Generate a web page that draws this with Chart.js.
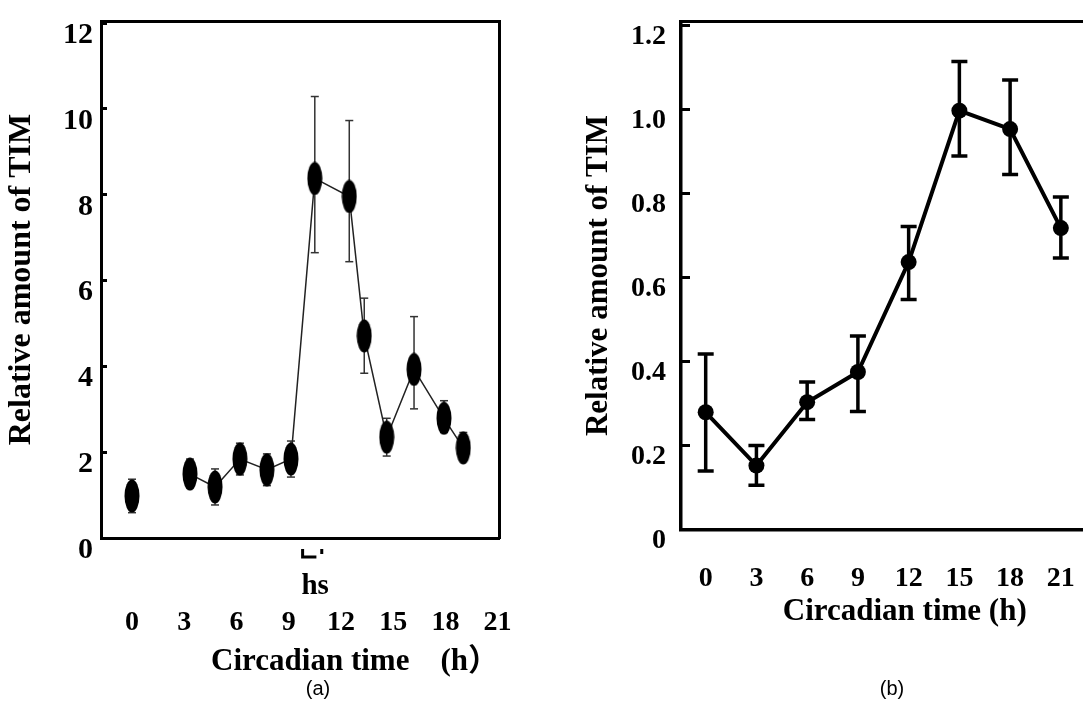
<!DOCTYPE html>
<html><head><meta charset="utf-8">
<script src="https://cdn.jsdelivr.net/npm/chart.js@4.4.1/dist/chart.umd.min.js"></script>
<style>
html,body{margin:0;padding:0;background:#fff;}
body{width:1083px;height:726px;overflow:hidden;position:relative;}
#wa{position:absolute;left:0;top:0;width:520px;height:726px;}
#wb{position:absolute;left:540px;top:0;width:600px;height:726px;}
.cap{position:absolute;top:676px;font:20px "Liberation Sans", Arial, sans-serif;line-height:24px;color:#000;width:60px;text-align:center;}
</style></head><body>
<div id="wa"><canvas id="ca" width="520" height="726"></canvas></div>
<div id="wb"><canvas id="cb" width="600" height="726"></canvas></div>
<div class="cap" style="left:288px">(a)</div>
<div class="cap" style="left:862px">(b)</div>
<script>
// ---------- Panel (a) data ----------
const timeA    = [0, 3.33, 4.77, 6.2, 7.75, 9.13, 10.5, 12.48, 13.34, 14.63, 16.2, 17.92, 19.03];
const timA     = [0.98, 1.49, 1.19, 1.84, 1.59, 1.84, 8.38, 7.96, 4.71, 2.35, 3.93, 2.79, 2.10];
const timAHigh = [1.37, 1.84, 1.61, 2.21, 1.96, 2.26, 10.29, 9.73, 5.59, 2.79, 5.16, 3.20, 2.46];
const timALow  = [0.59, 1.17, 0.77, 1.47, 1.22, 1.42, 6.65, 6.44, 3.84, 1.91, 3.01, 2.46, 1.83];
const xTicksA  = [0, 3, 6, 9, 12, 15, 18, 21];
const yTicksA  = [0, 2, 4, 6, 8, 10, 12];
const hsPeriod = [9.8, 10.9];
const hsLabel  = 'hs';
const xTitleA  = 'Circadian time    (h\uFF09';

// ---------- Panel (b) data ----------
const timeB    = [0, 3, 6, 9, 12, 15, 18, 21];
const timB     = [0.279, 0.152, 0.303, 0.375, 0.637, 0.998, 0.954, 0.718];
const timBHigh = [0.418, 0.200, 0.351, 0.461, 0.722, 1.115, 1.071, 0.792];
const timBLow  = [0.139, 0.105, 0.262, 0.281, 0.548, 0.890, 0.846, 0.647];
const xTicksB  = [0, 3, 6, 9, 12, 15, 18, 21];
const yTicksB  = [0, 0.2, 0.4, 0.6, 0.8, 1.0, 1.2];
const yTickLabelsB = ['0', '0.2', '0.4', '0.6', '0.8', '1.0', '1.2'];
const xTitleB  = 'Circadian time (h)';
const yTitle   = 'Relative amount of TIM';

const serif = '"Liberation Serif", "Times New Roman", "Noto Sans CJK JP", serif';

function points(xs, ys){ return xs.map((x, i) => ({x: x, y: ys[i]})); }
function errSegments(xs, lo, hi){
  const out = [];
  xs.forEach((x, i) => { out.push({x: x, y: lo[i]}, {x: x, y: hi[i]}, {x: x, y: null}); });
  return out;
}
function fixedTicks(arr){ return s => { s.ticks = arr.map(v => ({value: v})); }; }
function fixSize(w, h){
  return s => {
    if (w !== null) s.width = w;
    if (h !== null) s.height = h;
    s.paddingTop = 0; s.paddingBottom = 0; s.paddingLeft = 0; s.paddingRight = 0;
  };
}

// ellipse marker for panel (a)
const ell = document.createElement('canvas');
ell.width = 16; ell.height = 34;
(function(){ const c = ell.getContext('2d'); c.fillStyle = '#000'; c.beginPath(); c.ellipse(8, 17, 7.5, 16.5, 0, 0, Math.PI*2); c.fill(); })();

function frameAxes(){
  return {
    xTop: { type:'linear', position:'top', display:true, grid:{display:false}, ticks:{display:false},
            border:{display:true, color:'#000', width:3}, afterFit: fixSize(null, 0) },
    yRight: { type:'linear', position:'right', display:true, grid:{display:false}, ticks:{display:false},
            border:{display:true, color:'#000', width:3}, afterFit: fixSize(0, null) }
  };
}

const hsPlugin = {
  id: 'hsMark',
  afterDraw(chart){
    const xs = chart.scales.x, ys = chart.scales.y, ctx = chart.ctx;
    const x1 = xs.getPixelForValue(hsPeriod[0]);
    const x2 = xs.getPixelForValue(hsPeriod[1]);
    const yb = ys.getPixelForValue(0);
    ctx.save();
    ctx.strokeStyle = '#000'; ctx.lineWidth = 3;
    ctx.beginPath();
    ctx.moveTo(x1, yb + 11); ctx.lineTo(x1, yb + 19); ctx.lineTo(x1 + (x2 - x1) * 0.72, yb + 19);
    ctx.moveTo(x2, yb + 11); ctx.lineTo(x2, yb + 16);
    ctx.stroke();
    ctx.fillStyle = '#000';
    ctx.font = 'bold 29px ' + serif;
    ctx.textAlign = 'center'; ctx.textBaseline = 'middle';
    ctx.fillText(hsLabel, (x1 + x2) / 2 + 3, yb + 49);
    ctx.restore();
  }
};

Chart.defaults.color = '#000';

new Chart(document.getElementById('ca'), {
  type: 'line',
  data: { datasets: [
    { label:'TIM', data: points(timeA, timA), xAxisID:'x', yAxisID:'y',
      borderColor:'#222', borderWidth:1.5, pointStyle: ell, pointRadius: 8,
      pointBackgroundColor:'#000', pointBorderWidth:0, order:0,
      segment: { borderColor: c => c.p0DataIndex === 0 ? 'rgba(0,0,0,0)' : '#222' } },
    { label:'SE', data: errSegments(timeA, timALow, timAHigh), xAxisID:'x', yAxisID:'y',
      borderColor:'#333', borderWidth:1.5, pointStyle:'line', pointRadius:4,
      pointBorderColor:'#333', pointBorderWidth:1.5, spanGaps:false, order:1 }
  ]},
  options: {
    responsive:false, animation:false, devicePixelRatio:1, events:[],
    layout:{ padding:{left:0, top:21, right:21, bottom:0} },
    plugins:{ legend:{display:false}, tooltip:{enabled:false} },
    scales: Object.assign({
      x: { type:'linear', position:'bottom', min:-1.78, max:21.08,
           afterBuildTicks: fixedTicks(xTicksA), afterFit: fixSize(null, 188),
           grid:{display:false}, border:{display:true, color:'#000', width:3},
           ticks:{ color:'#000', autoSkip:false, maxRotation:0, padding:60,
                   font:{family:serif, size:28, weight:'bold'}, callback: v => String(v) },
           title:{ display:true, text:xTitleA, align:'end', color:'#000',
                   font:{family:serif, size:31, weight:'bold'}, padding:{top:0, bottom:45} } },
      y: { type:'linear', position:'left', min:0, max:12.05,
           afterBuildTicks: fixedTicks(yTicksA), afterFit: fixSize(101, null),
           grid:{ display:true, drawOnChartArea:false, drawTicks:true, tickLength:-6, color:'#000', lineWidth:3 },
           border:{display:true, color:'#000', width:3},
           ticks:{ color:'#000', padding:14, labelOffset:12,
                   font:{family:serif, size:30, weight:'bold'}, callback: v => String(v) },
           title:{ display:true, text:yTitle, color:'#000',
                   font:{family:serif, size:32, weight:'bold'}, padding:{top:3, bottom:0} } }
    }, frameAxes())
  },
  plugins:[hsPlugin]
});

new Chart(document.getElementById('cb'), {
  type: 'line',
  data: { datasets: [
    { label:'TIM', data: points(timeB, timB), xAxisID:'x', yAxisID:'y',
      borderColor:'#000', borderWidth:4, pointStyle:'circle', pointRadius:8,
      pointBackgroundColor:'#000', pointBorderColor:'#000', pointBorderWidth:0, order:0 },
    { label:'SE', data: errSegments(timeB, timBLow, timBHigh), xAxisID:'x', yAxisID:'y',
      borderColor:'#000', borderWidth:3.5, pointStyle:'line', pointRadius:8,
      pointBorderColor:'#000', pointBorderWidth:3.5, spanGaps:false, order:1 }
  ]},
  options: {
    responsive:false, animation:false, devicePixelRatio:1, events:[],
    layout:{ padding:{left:0, top:21.7, right:6, bottom:0} },
    plugins:{ legend:{display:false}, tooltip:{enabled:false} },
    scales: Object.assign({
      x: { type:'linear', position:'bottom', min:-1.46, max:25.0,
           afterBuildTicks: fixedTicks(xTicksB), afterFit: fixSize(null, 196.7),
           grid:{display:false}, border:{display:true, color:'#000', width:3.5},
           ticks:{ color:'#000', autoSkip:false, maxRotation:0, padding:25,
                   font:{family:serif, size:28, weight:'bold'}, callback: v => String(v) },
           title:{ display:true, text:xTitleB, color:'#000',
                   font:{family:serif, size:31, weight:'bold'}, padding:{top:0, bottom:95} } },
      y: { type:'linear', position:'left', min:0, max:1.21,
           afterBuildTicks: fixedTicks(yTicksB), afterFit: fixSize(141, null),
           grid:{ display:true, drawOnChartArea:false, drawTicks:true, tickLength:-9, color:'#000', lineWidth:3 },
           border:{display:true, color:'#000', width:3.5},
           ticks:{ color:'#000', padding:24, labelOffset:11,
                   font:{family:serif, size:28, weight:'bold'}, callback: (v, i) => yTickLabelsB[i] },
           title:{ display:true, text:yTitle, color:'#000',
                   font:{family:serif, size:31, weight:'bold'}, padding:{top:40, bottom:0} } }
    }, frameAxes())
  }
});
</script>
</body></html>
